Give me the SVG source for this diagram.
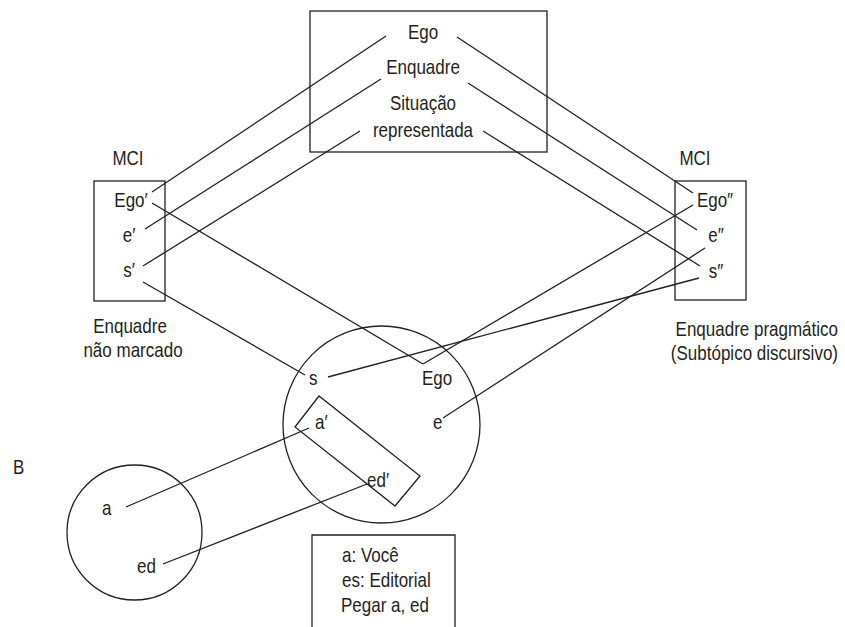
<svg xmlns="http://www.w3.org/2000/svg" width="845" height="627" viewBox="0 0 845 627">
<style>
text{font-family:"Liberation Sans",Arial,sans-serif;font-size:20px;fill:#231f20}
.c{text-anchor:middle}
.e{text-anchor:end}
.shape{fill:none;stroke:#231f20;stroke-width:1.3}
line{stroke:#231f20;stroke-width:1.3}
</style>
<rect width="845" height="627" fill="#fff"/>
<g id="top">
<rect class="shape" x="310" y="11" width="237" height="141"/>
<text class="c" transform="translate(423,39) scale(0.85,1)">Ego</text>
<text class="c" transform="translate(423,74) scale(0.85,1)">Enquadre</text>
<text class="c" transform="translate(423,110) scale(0.85,1)">Situação</text>
<text class="c" transform="translate(423,137) scale(0.85,1)">representada</text>
</g>
<g id="mci-left">
<text class="c" transform="translate(128,165) scale(0.85,1)">MCI</text>
<rect class="shape" x="94" y="181" width="71" height="120"/>
<text class="c" transform="translate(131,207) scale(0.85,1)">Ego′</text>
<text class="c" transform="translate(129,242) scale(0.85,1)">e′</text>
<text class="c" transform="translate(129,277) scale(0.85,1)">s′</text>
<text class="c" transform="translate(130,333) scale(0.85,1)">Enquadre</text>
<text class="c" transform="translate(133,357) scale(0.85,1)">não marcado</text>
</g>
<g id="mci-right">
<text class="c" transform="translate(695,165) scale(0.85,1)">MCI</text>
<rect class="shape" x="675" y="181" width="71" height="119"/>
<text class="c" transform="translate(715,207) scale(0.85,1)">Ego″</text>
<text class="c" transform="translate(716,242) scale(0.85,1)">e″</text>
<text class="c" transform="translate(716,278) scale(0.85,1)">s″</text>
<text class="e" transform="translate(838,336) scale(0.85,1)">Enquadre pragmático</text>
<text class="e" transform="translate(838,360) scale(0.85,1)">(Subtópico discursivo)</text>
</g>
<g id="circle-main">
<circle class="shape" cx="381.5" cy="424.5" r="98.5"/>
<polygon class="shape" points="319,396 295,427 395,506 420,476"/>
<text transform="translate(309,385) scale(0.85,1)">s</text>
<text transform="translate(422,385) scale(0.85,1)">Ego</text>
<text transform="translate(315,429) scale(0.85,1)">a′</text>
<text transform="translate(433,429) scale(0.85,1)">e</text>
<text transform="translate(367,487) scale(0.85,1)">ed′</text>
</g>
<g id="circle-b">
<text transform="translate(13,474) scale(0.85,1)">B</text>
<circle class="shape" cx="134.5" cy="532.5" r="67.5"/>
<text transform="translate(102,515) scale(0.85,1)">a</text>
<text transform="translate(137,573) scale(0.85,1)">ed</text>
</g>
<g id="legend">
<path class="shape" d="M312,640 V535 H455 V640"/>
<text transform="translate(342,562) scale(0.85,1)">a: Você</text>
<text transform="translate(342,587) scale(0.85,1)">es: Editorial</text>
<text transform="translate(341,612) scale(0.85,1)">Pegar a, ed</text>
</g>
<g id="connectors">
<line x1="386" y1="36" x2="152" y2="192"/>
<line x1="381" y1="79" x2="145" y2="229"/>
<line x1="360" y1="131" x2="143" y2="266"/>
<line x1="457" y1="37" x2="693" y2="193"/>
<line x1="468" y1="83" x2="697" y2="230"/>
<line x1="483" y1="131" x2="700" y2="266"/>
<line x1="152" y1="203" x2="423" y2="364"/>
<line x1="143" y1="282" x2="305" y2="375"/>
<line x1="693" y1="205" x2="423" y2="364"/>
<line x1="699" y1="278" x2="328" y2="377"/>
<line x1="705" y1="248" x2="443" y2="418"/>
<line x1="126" y1="507" x2="309" y2="428"/>
<line x1="163" y1="564" x2="367" y2="484"/>
</g>
</svg>
